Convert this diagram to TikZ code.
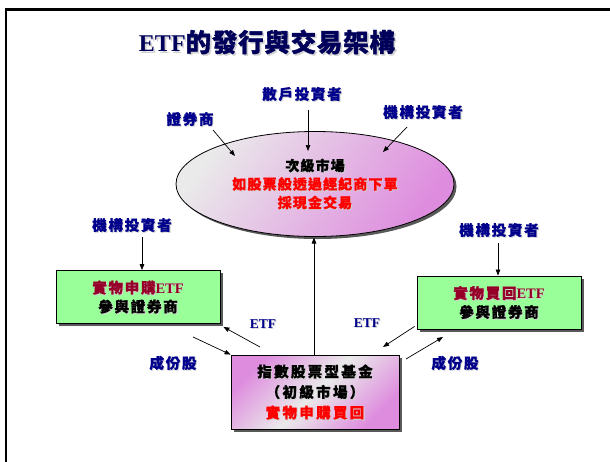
\documentclass[tikz,border=0pt]{standalone}
\usepackage{fontspec}
\setmainfont{Liberation Serif}
\newfontfamily\cj{Noto Sans CJK TC}[LetterSpace=12, BoldFeatures={FakeBold=1}]
\newfontfamily\cjr{Noto Sans CJK TC}[LetterSpace=8, BoldFeatures={FakeBold=1}]
\newfontfamily\cjf{Noto Sans CJK TC}[LetterSpace=16, BoldFeatures={FakeBold=1}]
\newfontfamily\cjt{Noto Sans CJK TC}[LetterSpace=3, BoldFeatures={FakeBold=1.2}]
\usetikzlibrary{arrows.meta,shadows,shapes.geometric}
\definecolor{navyc}{RGB}{0,0,140}
\definecolor{titlec}{RGB}{0,0,90}
\definecolor{dred}{RGB}{150,0,40}
\definecolor{grn}{RGB}{153,255,153}
\definecolor{pnk}{RGB}{222,140,222}
\definecolor{lgr}{RGB}{234,234,234}
\newcommand\shtx[3][0.9pt]{\makebox[0pt][l]{\hspace*{#1}\raisebox{-#1}[0pt][0pt]{\color{gray!35}#3}}{\color{#2}#3}}
\newcommand\etf{{\rmfamily ETF}}
\tikzset{
  lbl/.style={font=\fontsize{14.5}{16}\selectfont\bfseries\cj, inner sep=1pt},
  etflbl/.style={font=\fontsize{13.5}{16}\selectfont\bfseries\rmfamily, inner sep=1pt},
  arr/.style={draw=black, line width=0.7pt, -{Triangle[length=6pt,width=4.5pt]}},
  shad/.style={drop shadow={shadow xshift=2.5pt,shadow yshift=-2.5pt,fill=black!65,opacity=1}},
  gbox/.style={draw=black, line width=0.8pt, fill=grn, shad, minimum width=164pt, minimum height=53pt,
     align=center, font=\fontsize{14.5}{19}\selectfont\bfseries\cj},
}
\begin{document}
\begin{tikzpicture}[x=1pt,y=1pt]
\useasboundingbox (0,0) rectangle (610,-461);
% frame
\draw[line width=2.4pt, line join=miter] (6,-470) -- (6,-9.3) -- (620,-9.3);
% title
\node (title) at (267,-42) {\shtx[1.6pt]{titlec}{\fontsize{24}{28}\selectfont\bfseries ETF{\fontsize{25.5}{28}\selectfont\cjt 的發行與交易架構}}};
% ellipse market
\node[ellipse, draw=black, line width=0.8pt, shad, top color=lgr, bottom color=pnk, shading angle=55,
      minimum width=278pt, minimum height=105pt, align=center,
      font=\fontsize{14}{18.5}\selectfont\bfseries\cjr] (mkt) at (315,-184)
  {\shtx{black}{次級市場}\\ \shtx{red}{如股票般透過經紀商下單}\\ \shtx{red}{採現金交易}};
% labels top
\node[lbl] (sanhu) at (302,-94) {\shtx{navyc}{散戶投資者}};
\node[lbl] (zqs) at (190,-119) {\shtx{navyc}{證券商}};
\node[lbl] (jgT) at (423,-112) {\shtx{navyc}{機構投資者}};
\coordinate (a1s) at (308,-110);
\coordinate (a1e) at (308,-151);
\coordinate (a2s) at (213,-130);
\coordinate (a2e) at (235,-156);
\coordinate (a3s) at (407,-127);
\coordinate (a3e) at (383,-152);
\draw[arr] (a1s) -- (a1e);
\draw[arr] (a2s) -- (a2e);
\draw[arr] (a3s) -- (a3e);
% green boxes
\node[gbox] (boxL) at (138,-297) {\shtx{dred}{實物申購\etf}\\ \shtx{black}{參與證券商}};
\node[gbox] (boxR) at (499,-302.5) {\shtx{dred}{實物買回\etf}\\ \shtx{black}{參與證券商}};
\node[lbl] (jgL) at (132,-225) {\shtx{navyc}{機構投資者}};
\node[lbl] (jgR) at (499,-230) {\shtx{navyc}{機構投資者}};
\coordinate (b1s) at (142,-237);
\coordinate (b2s) at (498,-243);
\draw[arr] (b1s) -- (b1s |- boxL.north);
\draw[arr] (b2s) -- (b2s |- boxR.north);
% fund box
\node[draw=black, line width=0.8pt, shad, top color=pnk, bottom color=pnk, middle color=lgr, shading angle=45,
      minimum width=168pt, minimum height=74pt, align=center,
      font=\fontsize{14.5}{20.5}\selectfont\bfseries\cjf] (fund) at (315,-392)
  {\shtx{black}{指數股票型基金}\\ \shtx{black}{（初級市場）}\\ \shtx{red}{實物申購買回}};
\draw[arr] (fund.north -| 314,0) -- (314,-237.5);
% ETF / component arrows
\node[etflbl] (etfL) at (263,-324) {\shtx{navyc}{ETF}};
\node[etflbl] (etfR) at (367,-323) {\shtx{navyc}{ETF}};
\node[lbl] (cfL) at (173,-363) {\shtx{navyc}{成份股}};
\node[lbl] (cfR) at (455,-363) {\shtx{navyc}{成份股}};
\coordinate (e1s) at (260,-347);
\coordinate (e2s) at (193,-337);
\coordinate (e3e) at (383,-347);
\coordinate (e4s) at (406,-359);
\coordinate (e4e) at (443,-337);
\draw[arr] (e1s) -- ([shift={(3pt,-3pt)}]boxL.south east);
\draw[arr] (e2s) -- (fund.north west);
\draw[arr] ([shift={(-2pt,3pt)}]boxR.south west) -- (e3e);
\draw[arr] (e4s) -- (e4e);
\end{tikzpicture}
\end{document}
